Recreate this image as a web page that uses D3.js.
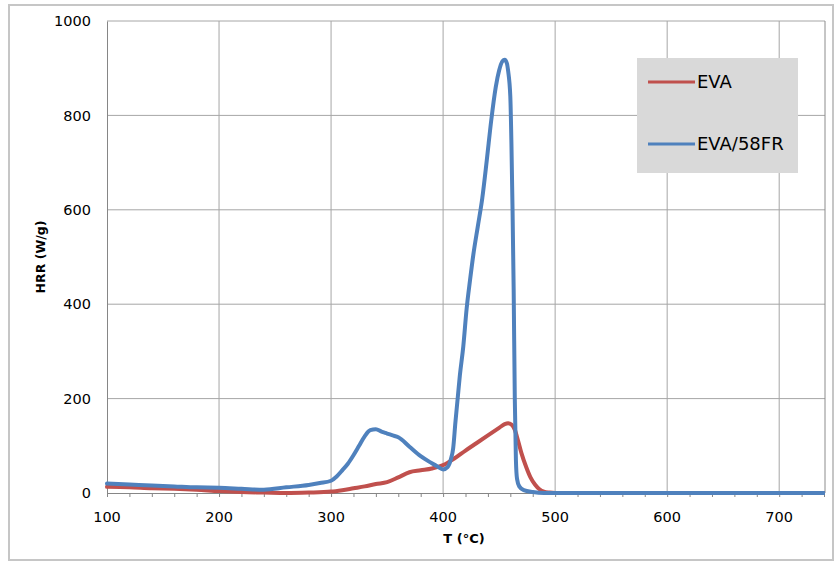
<!DOCTYPE html>
<html>
<head>
<meta charset="utf-8">
<script src="https://cdn.jsdelivr.net/npm/d3@7/dist/d3.min.js"></script>
<style>
  html, body { margin: 0; padding: 0; background: #fff; }
  svg { display: block; }
  text { font-family: "DejaVu Sans", sans-serif; fill: #000; }
</style>
</head>
<body>
<svg id="chart" width="835" height="563"></svg>
<script>
// ---- Data ----
const seriesNames = ["EVA", "EVA/58FR"];

const evaT   = [100,120,140,160,180,200,220,240,260,280,300,310,320,330,340,350,360,370,380,390,400,410,420,430,440,450,455,458,461,464,467,470,474,478,482,486,490,495,500,550,600,650,700,740];
const evaHRR = [13,12,10,9,7,4,2,1,0,1,3,6,10,14,19,23,33,44,48,52,59,73,90,106,122,138,146,148,145,134,110,84,56,33,18,8,3,1,0,0,0,0,0,0];

const frT   = [100,120,140,160,180,200,220,240,260,280,290,300,305,310,315,320,325,330,335,340,345,350,355,360,370,380,390,395,400,404,407,409,411,413,415,418,421,424,427,431,435,439,443,447,450,453,455,457,458,460,461,462,463,464,465,466,468,472,480,490,500,600,700,740];
const frHRR = [20,18,16,14,12,11,9,7,12,17,21,26,35,48,62,80,100,120,133,135,130,126,122,118,98,78,63,56,50,55,72,95,150,200,250,310,390,450,505,565,625,705,790,860,895,915,918,910,895,840,740,600,430,200,70,30,14,6,2,0,0,0,0,0];

const xTicks = [100,200,300,400,500,600,700];
const yTicks = [0,200,400,600,800,1000];
const colors = ["#c0504d", "#4f81bd"];

// ---- Layout ----
const svg = d3.select("#chart");
const pL = 107, pR = 824, pT = 21, pB = 493;

const x = d3.scaleLinear().domain([100, 740]).range([pL, pR]);
const y = d3.scaleLinear().domain([0, 1000]).range([pB, pT]);

// outer chart border
svg.append("rect")
  .attr("x", 9).attr("y", 5).attr("width", 824).attr("height", 555)
  .attr("fill", "#fff").attr("stroke", "#c6c6c6").attr("stroke-width", 2);

// gridlines
const g = svg.append("g");
g.selectAll("line.vg").data(xTicks.filter(d => d > 100)).enter().append("line")
  .attr("x1", d => x(d)).attr("x2", d => x(d))
  .attr("y1", pT).attr("y2", pB)
  .attr("stroke", "#a6a6a6").attr("stroke-width", 1);
g.selectAll("line.hg").data(yTicks.filter(d => d > 0)).enter().append("line")
  .attr("x1", pL).attr("x2", pR + 1)
  .attr("y1", d => y(d)).attr("y2", d => y(d))
  .attr("stroke", "#a6a6a6").attr("stroke-width", 1);

// plot border right
svg.append("line").attr("x1", pR + 1).attr("x2", pR + 1)
  .attr("y1", pT).attr("y2", pB).attr("stroke", "#8c8c8c");

// X axis
const xAxis = d3.axisBottom(x).tickValues(d3.range(100, 741, 20)).tickSize(4).tickFormat("");
const xa = svg.append("g").attr("transform", `translate(0,${pB})`).call(xAxis);
xa.select(".domain").attr("stroke", "#868686").attr("d", `M${pL},0.5H${pR + 1}`);
xa.selectAll(".tick line").attr("stroke", "#868686");

svg.append("g").selectAll("text").data(xTicks).enter().append("text")
  .attr("x", d => x(d)).attr("y", 522)
  .attr("text-anchor", "middle").attr("font-size", "14.5px")
  .text(d => d);

// Y axis
const ya = svg.append("g").attr("transform", `translate(${pL},0)`)
  .call(d3.axisLeft(y).tickValues(yTicks).tickSize(0).tickFormat(""));
ya.select(".domain").attr("stroke", "#868686");

svg.append("g").selectAll("text").data(yTicks).enter().append("text")
  .attr("x", 91).attr("y", d => y(d)).attr("dy", "0.36em")
  .attr("text-anchor", "end").attr("font-size", "14.5px")
  .text(d => d);

// axis titles
svg.append("text").attr("x", 464).attr("y", 543)
  .attr("text-anchor", "middle").attr("font-size", "13px").attr("font-weight", "bold")
  .text("T (°C)");
svg.append("text").attr("transform", "translate(45,257) rotate(-90)")
  .attr("text-anchor", "middle").attr("font-size", "12.5px").attr("font-weight", "bold")
  .text("HRR (W/g)");

// lines
const line = d3.line().x(d => x(d[0])).y(d => y(d[1])).curve(d3.curveMonotoneX);
const seriesData = [
  d3.zip(evaT, evaHRR),
  d3.zip(frT, frHRR)
];
svg.append("clipPath").attr("id", "plotclip").append("rect")
  .attr("x", pL - 3).attr("y", pT - 3).attr("width", pR - pL + 4).attr("height", pB - pT + 6);
svg.append("g").attr("clip-path", "url(#plotclip)")
  .selectAll("path").data(seriesData).enter().append("path")
  .attr("d", line).attr("fill", "none")
  .attr("stroke", (d, i) => colors[i]).attr("stroke-width", 4)
  .attr("stroke-linejoin", "round").attr("stroke-linecap", "round");

// legend
const lg = svg.append("g");
lg.append("rect").attr("x", 637).attr("y", 58).attr("width", 161).attr("height", 115).attr("fill", "#d9d9d9");
const ly = [82, 144];
seriesNames.forEach((n, i) => {
  lg.append("line").attr("x1", 648).attr("x2", 695).attr("y1", ly[i]).attr("y2", ly[i])
    .attr("stroke", colors[i]).attr("stroke-width", 3);
  lg.append("text").attr("x", 697).attr("y", ly[i]).attr("dy", "0.36em")
    .attr("font-size", "18px").text(n);
});
</script>
</body>
</html>
